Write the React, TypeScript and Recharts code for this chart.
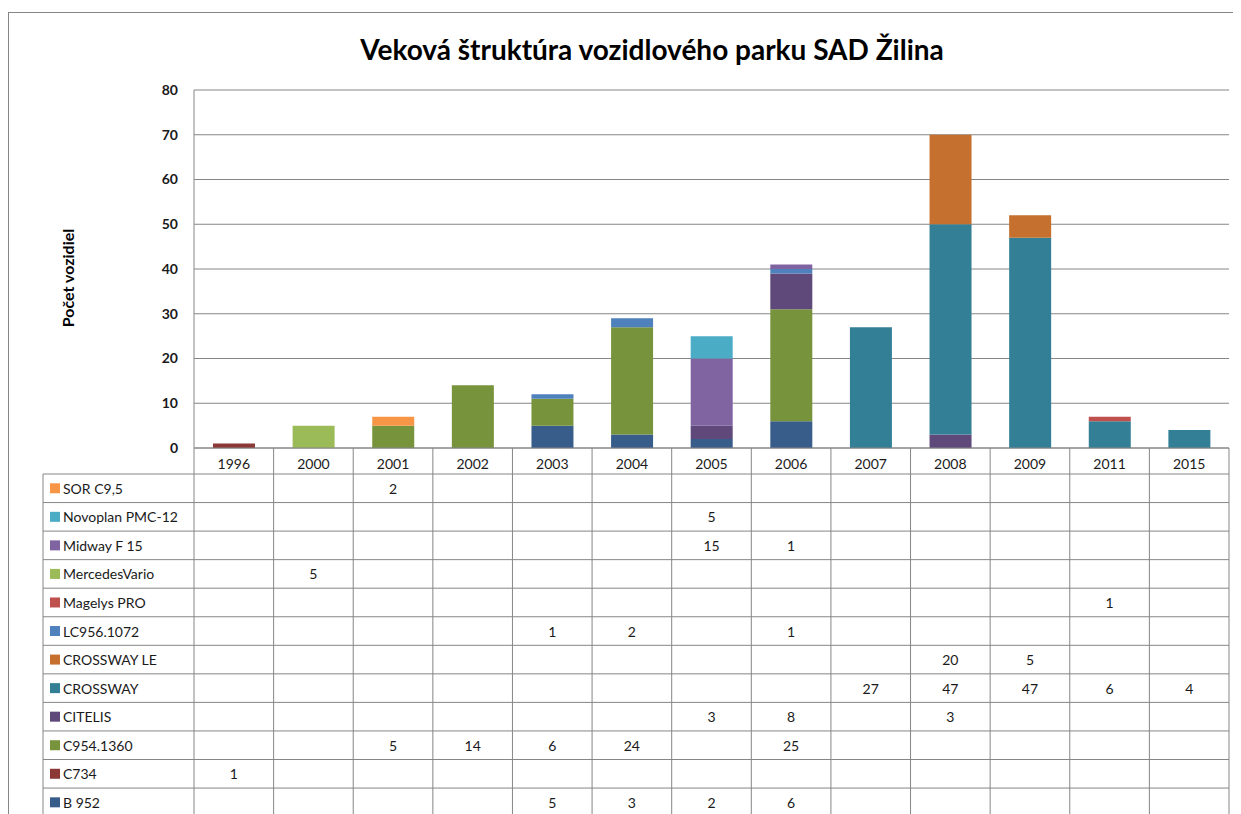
import React from 'react';
import { BarChart, Bar, XAxis, YAxis, CartesianGrid, Customized } from 'recharts';

const CATEGORIES = ['1996', '2000', '2001', '2002', '2003', '2004', '2005', '2006', '2007', '2008', '2009', '2011', '2015'];

const B952 = [null, null, null, null, 5, 3, 2, 6, null, null, null, null, null];
const C734 = [1, null, null, null, null, null, null, null, null, null, null, null, null];
const C954_1360 = [null, null, 5, 14, 6, 24, null, 25, null, null, null, null, null];
const CITELIS = [null, null, null, null, null, null, 3, 8, null, 3, null, null, null];
const CROSSWAY = [null, null, null, null, null, null, null, null, 27, 47, 47, 6, 4];
const CROSSWAY_LE = [null, null, null, null, null, null, null, null, null, 20, 5, null, null];
const LC956_1072 = [null, null, null, null, 1, 2, null, 1, null, null, null, null, null];
const MAGELYS_PRO = [null, null, null, null, null, null, null, null, null, null, null, 1, null];
const MERCEDES_VARIO = [null, 5, null, null, null, null, null, null, null, null, null, null, null];
const MIDWAY_F15 = [null, null, null, null, null, null, 15, 1, null, null, null, null, null];
const NOVOPLAN = [null, null, null, null, null, null, 5, null, null, null, null, null, null];
const SOR_C95 = [null, null, 2, null, null, null, null, null, null, null, null, null, null];

const Y_TICKS = [0, 10, 20, 30, 40, 50, 60, 70, 80];

const TITLE = 'Veková štruktúra vozidlového parku SAD Žilina';
const Y_LABEL = 'Počet vozidiel';

// stacking order, bottom to top
const SERIES = [
  { key: 's1', name: 'B 952', values: B952, color: '#385D8A' },
  { key: 's2', name: 'C734', values: C734, color: '#8C3836' },
  { key: 's3', name: 'C954.1360', values: C954_1360, color: '#77933C' },
  { key: 's4', name: 'CITELIS', values: CITELIS, color: '#5F497A' },
  { key: 's5', name: 'CROSSWAY', values: CROSSWAY, color: '#338096' },
  { key: 's6', name: 'CROSSWAY LE', values: CROSSWAY_LE, color: '#C5702F' },
  { key: 's7', name: 'LC956.1072', values: LC956_1072, color: '#4F81BD' },
  { key: 's8', name: 'Magelys PRO', values: MAGELYS_PRO, color: '#C0504D' },
  { key: 's9', name: 'MercedesVario', values: MERCEDES_VARIO, color: '#9BBB59' },
  { key: 's10', name: 'Midway F 15', values: MIDWAY_F15, color: '#8064A2' },
  { key: 's11', name: 'Novoplan PMC-12', values: NOVOPLAN, color: '#4BACC6' },
  { key: 's12', name: 'SOR C9,5', values: SOR_C95, color: '#F79646' },
];

const data = CATEGORIES.map((c, i) => {
  const row: any = { year: c };
  SERIES.forEach((s) => {
    row[s.key] = s.values[i];
  });
  return row;
});

const W = 1233;
const H = 806;
const PLOT_LEFT = 186;
const PLOT_TOP = 82;
const PLOT_RIGHT = 1221;
const PLOT_BOTTOM = 440;
const BAND = (PLOT_RIGHT - PLOT_LEFT) / CATEGORIES.length;
const TABLE_LEFT = 35;
const HEADER_BOTTOM = 466;
const ROW_H = 28.55;
const GRID = '#868686';
const FONT = 'Lato, "Liberation Sans", sans-serif';
const TEXT = '#1a1a1a';

function TableTick(props: any) {
  const { x, index, payload } = props;
  const rows = [...SERIES].reverse();
  const colRight = x + BAND / 2;
  const els: any[] = [];
  els.push(
    <text key="h" x={x} y={455} textAnchor="middle" dominantBaseline="central" fontSize={14} fontFamily={FONT} fill={TEXT}>
      {payload.value}
    </text>
  );
  els.push(<line key="vr" x1={colRight} x2={colRight} y1={PLOT_BOTTOM} y2={H} stroke={GRID} strokeWidth={1} />);
  rows.forEach((s, r) => {
    const v = s.values[index];
    if (v !== null && v !== undefined) {
      els.push(
        <text key={'v' + r} x={x} y={HEADER_BOTTOM + ROW_H * (r + 0.5)} textAnchor="middle" dominantBaseline="central" fontSize={14} fontFamily={FONT} fill={TEXT}>
          {v}
        </text>
      );
    }
  });
  if (index === 0) {
    const left = x - BAND / 2;
    els.push(<line key="vl" x1={left} x2={left} y1={PLOT_BOTTOM} y2={H} stroke={GRID} strokeWidth={1} />);
    els.push(<line key="vt" x1={TABLE_LEFT} x2={TABLE_LEFT} y1={HEADER_BOTTOM} y2={H} stroke={GRID} strokeWidth={1} />);
    rows.forEach((s, r) => {
      const top = HEADER_BOTTOM + ROW_H * r;
      els.push(<line key={'hl' + r} x1={TABLE_LEFT} x2={PLOT_RIGHT} y1={top} y2={top} stroke={GRID} strokeWidth={1} />);
      const cy = top + ROW_H / 2;
      els.push(<rect key={'sw' + r} x={TABLE_LEFT + 7} y={cy - 5} width={10} height={10} fill={s.color} />);
      els.push(
        <text key={'ln' + r} x={TABLE_LEFT + 20} y={cy} dominantBaseline="central" fontSize={14} fontFamily={FONT} fill={TEXT}>
          {s.name}
        </text>
      );
    });
  }
  return <g>{els}</g>;
}

function Decor() {
  return (
    <g>
      <rect x={0.5} y={4.5} width={1230} height={H + 20} fill="none" stroke={GRID} strokeWidth={1} />
      <text x={644} y={41} textAnchor="middle" dominantBaseline="central" fontSize={28} fontWeight="bold" fontFamily={FONT} fill="#000">
        {TITLE}
      </text>
      <text
        x={59}
        y={270}
        textAnchor="middle"
        dominantBaseline="central"
        fontSize={16}
        fontWeight="bold"
        fontFamily={FONT}
        fill="#000"
        transform="rotate(-90 59 270)"
      >
        {Y_LABEL}
      </text>
    </g>
  );
}

export default function App() {
  return (
    <div style={{ width: W, height: H, background: '#fff' }}>
      <BarChart width={W} height={H} data={data} margin={{ top: PLOT_TOP, right: W - PLOT_RIGHT, bottom: 0, left: 0 }} barSize={42}>
        <CartesianGrid vertical={false} stroke={GRID} strokeWidth={1} />
        <YAxis
          width={PLOT_LEFT}
          domain={[0, 80]}
          ticks={Y_TICKS}
          interval={0}
          tickLine={false}
          tickSize={6}
          tickMargin={10}
          axisLine={{ stroke: GRID }}
          tick={{ fontSize: 14, fontWeight: 'bold', fontFamily: FONT, fill: TEXT }}
        />
        <XAxis
          dataKey="year"
          height={H - PLOT_BOTTOM}
          interval={0}
          tickLine={false}
          axisLine={{ stroke: GRID }}
          tick={(p: any) => <TableTick {...p} />}
        />
        {SERIES.map((s) => (
          <Bar key={s.key} dataKey={s.key} name={s.name} stackId="a" fill={s.color} isAnimationActive={false} />
        ))}
        <Customized component={Decor} />
      </BarChart>
    </div>
  );
}
